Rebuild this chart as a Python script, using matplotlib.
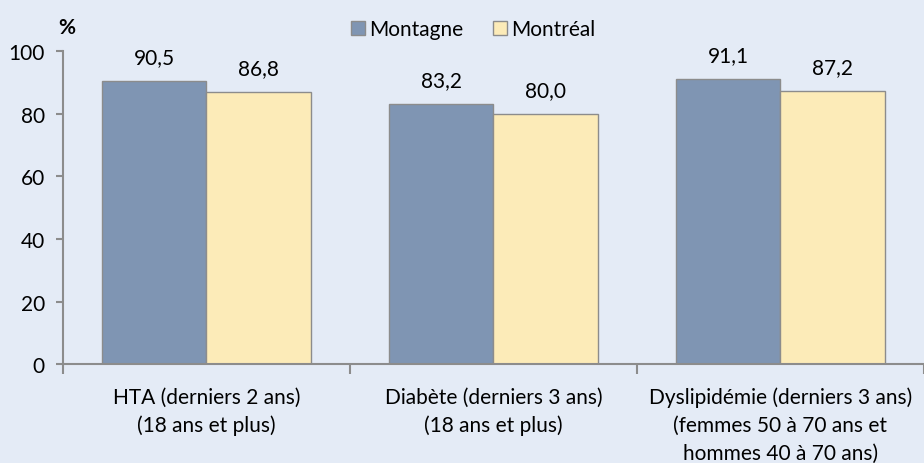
import matplotlib.pyplot as plt
import numpy as np

categories = ["HTA (derniers 2 ans)\n(18 ans et plus)",
              "Diabète (derniers 3 ans)\n(18 ans et plus)",
              "Dyslipidémie (derniers 3 ans)\n(femmes 50 à 70 ans et\nhommes 40 à 70 ans)"]
montagne = [90.5, 83.2, 91.1]
montreal = [86.8, 80.0, 87.2]
series_names = ["Montagne", "Montréal"]

plt.rcParams['font.family'] = ['Lato', 'DejaVu Sans']
fs = 15
bg = '#E4EBF6'
c_mont = '#7F95B3'
c_mtl = '#FCEBB8'
edge = '#8C8C8C'

fig = plt.figure(figsize=(9.24, 4.64), dpi=100)
fig.patch.set_facecolor(bg)
ax = fig.add_axes([0.068, 0.213, 0.932, 0.675])
ax.set_facecolor(bg)

x = np.arange(len(categories))
w = 0.364
b1 = ax.bar(x - w/2, montagne, w, color=c_mont, edgecolor=edge, linewidth=1, label=series_names[0])
b2 = ax.bar(x + w/2, montreal, w, color=c_mtl, edgecolor=edge, linewidth=1, label=series_names[1])

for bars, vals in ((b1, montagne), (b2, montreal)):
    for r, v in zip(bars, vals):
        ax.annotate(("%.1f" % v).replace('.', ','), (r.get_x() + r.get_width()/2, v),
                    xytext=(0, 10), textcoords='offset points', ha='center', va='bottom', fontsize=fs)

ax.set_xlim(-0.5, len(categories) - 0.5)
ax.set_ylim(0, 100)
ax.set_yticks(range(0, 101, 20))
ax.tick_params(axis='y', labelsize=fs, length=5, color=edge, width=1.5, pad=8)

# category boundaries as major ticks, labels centered as minor ticks
ax.set_xticks(np.arange(-0.5, len(categories), 1.0))
ax.set_xticklabels([])
ax.tick_params(axis='x', which='major', length=7, color=edge, width=1.5)
ax.set_xticks(x, minor=True)
ax.set_xticklabels(categories, minor=True, fontsize=fs, linespacing=1.5)
ax.tick_params(axis='x', which='minor', length=0, pad=16)

for s in ('top', 'right'):
    ax.spines[s].set_visible(False)
for s in ('left', 'bottom'):
    ax.spines[s].set_color(edge)
    ax.spines[s].set_linewidth(1.5)

fig.text(0.063, 0.94, "%", fontsize=fs, fontweight='bold', ha='left', va='center')
fig.legend(loc='center', bbox_to_anchor=(0.512, 0.935), ncol=2, frameon=False, fontsize=fs,
           handlelength=0.7, handleheight=0.7, handletextpad=0.2, columnspacing=1.4)

fig.savefig("out.png", dpi=100, facecolor=bg)
